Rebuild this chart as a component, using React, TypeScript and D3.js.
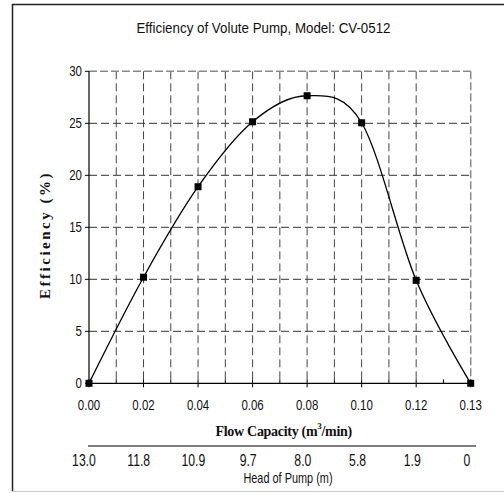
import * as d3 from "d3";

const flowLabels = ["0.00", "0.02", "0.04", "0.06", "0.08", "0.10", "0.12", "0.13"];
const efficiency = [0, 10.2, 18.9, 25.15, 27.65, 25.05, 9.9, 0];
const headLabels = ["13.0", "11.8", "10.9", "9.7", "8.0", "5.8", "1.9", "0"];
const yTicks = [0, 5, 10, 15, 20, 25, 30];

const W = 504;
const H = 493;
const plot = { left: 89, right: 470.7, top: 71.3, bottom: 383.3 };

const narrow = "'Liberation Sans', Arial, sans-serif";
const serif = "'Liberation Serif', 'Times New Roman', serif";

export default function App() {
  const x = d3.scalePoint<string>().domain(flowLabels).range([plot.left, plot.right]);
  const xHead = d3.scalePoint<string>().domain(headLabels).range([84, 467]);
  const y = d3.scaleLinear().domain([0, 30]).range([plot.bottom, plot.top]);
  const step = x.step();

  const pts: [number, number][] = flowLabels.map((f, i) => [x(f)!, y(efficiency[i])]);
  const line = d3.line().curve(d3.curveCatmullRom.alpha(0))(pts) || "";

  // vertical grid every half category
  const halfSteps = d3.range(1, 14).map((k) => plot.left + (k * step) / 2);
  const minorTicks = d3.range(0, 7).map((k) => plot.left + (k + 0.5) * step);

  const condensed = (cx: number, cy: number, s = 0.82) => `translate(${cx},${cy}) scale(${s},1)`;

  return (
    <svg
      width={W}
      height={H}
      style={{ position: "absolute", left: 0, top: 0, background: "#fff" }}
    >
      {/* chart frame */}
      <line x1={12.5} y1={4} x2={12.5} y2={491} stroke="#222" strokeWidth={1.5} />
      <line x1={12} y1={4.5} x2={W} y2={4.5} stroke="#222" strokeWidth={1.5} />
      <line x1={12} y1={491.5} x2={W} y2={491.5} stroke="#ccc" strokeWidth={1} />

      <text
        transform={condensed(263.5, 33, 0.89)}
        textAnchor="middle"
        fontFamily={narrow}
        fontSize={15}
        fill="#111"
      >
        Efficiency of Volute Pump, Model: CV-0512
      </text>

      {/* grid */}
      {yTicks.slice(1, -1).map((t) => (
        <line
          key={"h" + t}
          x1={plot.left}
          x2={plot.right}
          y1={y(t)}
          y2={y(t)}
          stroke="#333"
          strokeWidth={1}
          strokeDasharray="8,4"
        />
      ))}
      {halfSteps.slice(0, -1).map((gx, i) => (
        <line
          key={"v" + i}
          x1={gx}
          x2={gx}
          y1={plot.top}
          y2={plot.bottom - 4}
          stroke="#444"
          strokeWidth={1}
          strokeDasharray="8,4"
        />
      ))}
      <line x1={plot.left} x2={plot.right} y1={plot.top} y2={plot.top} stroke="#888" strokeWidth={1.5} strokeDasharray="8,3" />
      <line x1={plot.right} x2={plot.right} y1={plot.top} y2={plot.bottom} stroke="#888" strokeWidth={1.5} strokeDasharray="8,3" />

      {/* y axis */}
      <line x1={plot.left} x2={plot.left} y1={plot.top} y2={plot.bottom} stroke="#000" strokeWidth={1.2} />
      {yTicks.map((t) => (
        <g key={"yt" + t}>
          <line x1={plot.left - 4} x2={plot.left} y1={y(t)} y2={y(t)} stroke="#000" />
          <text
            transform={condensed(82, y(t) + 5)}
            textAnchor="end"
            fontFamily={narrow}
            fontSize={14}
            fill="#111"
          >
            {t}
          </text>
        </g>
      ))}

      {/* x axis */}
      <line x1={plot.left} x2={plot.right} y1={plot.bottom} y2={plot.bottom} stroke="#000" strokeWidth={1.2} />
      {flowLabels.map((f) => (
        <g key={"xt" + f}>
          <line x1={x(f)} x2={x(f)} y1={plot.bottom - 4} y2={plot.bottom + 4} stroke="#000" />
          <text
            transform={condensed(x(f)!, 410)}
            textAnchor="middle"
            fontFamily={narrow}
            fontSize={14}
            fill="#111"
          >
            {f}
          </text>
        </g>
      ))}
      {minorTicks.map((mx, i) => (
        <line key={"mt" + i} x1={mx} x2={mx} y1={plot.bottom - 4} y2={plot.bottom} stroke="#000" />
      ))}

      {/* series */}
      <path d={line} fill="none" stroke="#000" strokeWidth={1.3} />
      {pts.map(([px, py], i) => (
        <rect key={"m" + i} x={px - 3.5} y={py - 3.5} width={7} height={7} fill="#000" />
      ))}

      {/* axis titles */}
      <text
        transform="translate(50,235) rotate(-90)"
        textAnchor="middle"
        fontFamily={serif}
        fontWeight="bold"
        fontSize={15}
        letterSpacing={2.5}
        fill="#111"
      >
        Efficiency (%)
      </text>
      <text
        x={283.7}
        y={436}
        textAnchor="middle"
        fontFamily={serif}
        fontWeight="bold"
        fontSize={14}
        letterSpacing={-0.3}
        fill="#111"
      >
        Flow Capacity (m
        <tspan fontSize={9} dy={-7}>3</tspan>
        <tspan dy={7}>/min)</tspan>
      </text>

      {/* secondary head axis */}
      <line x1={88} x2={476} y1={446} y2={446} stroke="#000" strokeWidth={1.2} />
      {headLabels.map((h) => (
        <text
          key={"hd" + h}
          transform={condensed(xHead(h)!, 466, 0.72)}
          textAnchor="middle"
          fontFamily={narrow}
          fontSize={17}
          fill="#111"
        >
          {h}
        </text>
      ))}
      <text
        transform={condensed(288, 483, 0.78)}
        textAnchor="middle"
        fontFamily={narrow}
        fontSize={14}
        fill="#111"
      >
        Head of Pump (m)
      </text>
    </svg>
  );
}
